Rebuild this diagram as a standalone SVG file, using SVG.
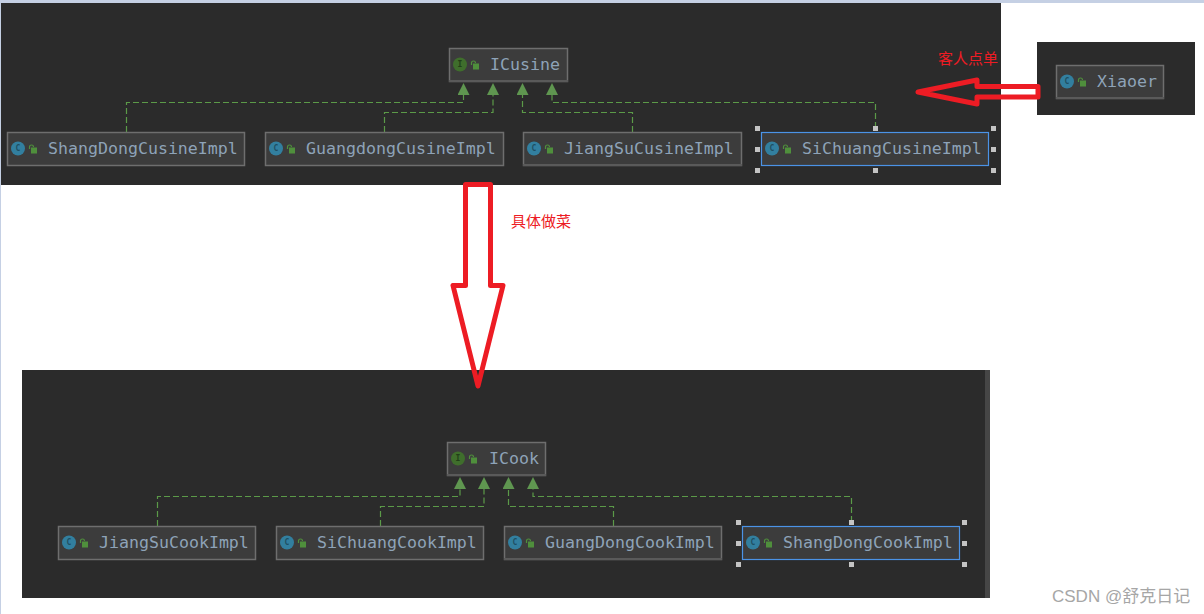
<svg xmlns="http://www.w3.org/2000/svg" xmlns:xlink="http://www.w3.org/1999/xlink" width="1204" height="614" viewBox="0 0 1204 614">
<style>
.panel{fill:#2b2b2b}
.box{fill:#3c3c3c;stroke:#6e6e6e;stroke-width:1.5}
.sel{fill:#3c3c3c;stroke:#4b93e6;stroke-width:1.2}
.foot{fill:#5a5a5a}
.label{font-family:"DejaVu Sans Mono","Liberation Mono",monospace;font-size:16.6px;fill:#8ea3b8}
.iconletter{font-family:"DejaVu Sans Mono",monospace;font-size:8px;font-weight:bold;text-anchor:middle}
.dep{fill:none;stroke:#5b9a48;stroke-width:1.2;stroke-dasharray:6 3;marker-end:url(#tri)}
.handle{fill:#c4c4c4}
.red{fill:none;stroke:#ed1c24;stroke-width:5;stroke-linejoin:round}
.note{font-family:"Liberation Sans","Noto Sans CJK SC",sans-serif;font-size:15px;fill:#ed1c24}
.mark{font-family:"Liberation Sans","Noto Sans CJK SC",sans-serif;font-size:17px;fill:#a6a6a6}
</style>
<defs>
<marker id="tri" markerUnits="userSpaceOnUse" markerWidth="12" markerHeight="12" refX="0" refY="6" orient="auto" viewBox="0 0 12 12"><path d="M0 0L12 6L0 12Z" fill="#5f9650"/></marker>
<g id="lock"><rect x="24" y="15.500" width="6" height="6" fill="#4f8f3c"/><path d="M22.500 17V15a2 2 0 0 1 4 0" fill="none" stroke="#4f8f3c" stroke-width="1.200"/></g>
<g id="cicon"><circle cx="11" cy="16.500" r="7" fill="#327f9f"/><text class="iconletter" x="11" y="19.300" fill="#1f4f63">C</text><use href="#lock" xlink:href="#lock"/></g>
<g id="iicon"><circle cx="11" cy="16.500" r="7" fill="#3f6e2c"/><text class="iconletter" x="11" y="19.300" fill="#223f18">I</text><use href="#lock" xlink:href="#lock"/></g>
</defs>
<rect width="1204" height="614" fill="#fff"/>
<rect width="1204" height="3" fill="#c5d0e4"/>
<rect y="0" width="1" height="614" fill="#c5d0e4"/>
<rect class="panel" x="1" y="3" width="1000" height="182"/>
<rect class="panel" x="1037" y="42" width="158" height="73"/>
<rect class="panel" x="22" y="370" width="968" height="228"/>
<rect x="985" y="370" width="5" height="228" fill="#464646"/>

<g id="connectors">
<path class="dep" d="M126.500 132V102.500H463.500V95"/>
<path class="dep" d="M384.500 132V112.500H493V95"/>
<path class="dep" d="M632.500 132V112.500H522.500V95"/>
<path class="dep" d="M875.500 128V102.500H552V95"/>
<path class="dep" d="M157.500 526V496.500H460V489"/>
<path class="dep" d="M380.500 526V506.500H484V489"/>
<path class="dep" d="M613.500 526V506.500H508.500V489"/>
<path class="dep" d="M851.500 522V496.500H533V489"/>
</g>

<g id="ICusine" transform="translate(449 48)"><rect class="box" x="0.500" y="0.500" width="118" height="33"/><rect class="foot" y="32" width="119" height="2"/><use href="#iicon" xlink:href="#iicon"/><text class="label" x="41" y="22">ICusine</text></g>
<g id="ShangDongCusineImpl" transform="translate(7 132)"><rect class="box" x="0.500" y="0.500" width="237" height="33"/><use href="#cicon" xlink:href="#cicon"/><text class="label" x="41" y="22">ShangDongCusineImpl</text></g>
<g id="GuangdongCusineImpl" transform="translate(265 132)"><rect class="box" x="0.500" y="0.500" width="238" height="33"/><use href="#cicon" xlink:href="#cicon"/><text class="label" x="41" y="22">GuangdongCusineImpl</text></g>
<g id="JiangSuCusineImpl" transform="translate(523 132)"><rect class="box" x="0.500" y="0.500" width="218" height="33"/><rect class="foot" y="32" width="219" height="2"/><use href="#cicon" xlink:href="#cicon"/><text class="label" x="41" y="22">JiangSuCusineImpl</text></g>
<g id="SiChuangCusineImpl" transform="translate(761 132)"><rect class="sel" x="0.500" y="0.500" width="227" height="33"/><use href="#cicon" xlink:href="#cicon"/><text class="label" x="41" y="22">SiChuangCusineImpl</text>
<g class="handle"><rect x="-6" y="-6" width="5" height="5"/><rect x="112" y="-6" width="5" height="5"/><rect x="230" y="-6" width="5" height="5"/><rect x="-6" y="15" width="5" height="5"/><rect x="230" y="15" width="5" height="5"/><rect x="-6" y="36" width="5" height="5"/><rect x="112" y="36" width="5" height="5"/><rect x="230" y="36" width="5" height="5"/></g></g>
<g id="Xiaoer" transform="translate(1056 65)"><rect class="box" x="0.500" y="0.500" width="107" height="33"/><rect class="foot" y="32" width="108" height="2"/><use href="#cicon" xlink:href="#cicon"/><text class="label" x="41" y="22">Xiaoer</text></g>

<g id="ICook" transform="translate(447 442)"><rect class="box" x="0.500" y="0.500" width="98" height="33"/><rect class="foot" y="32" width="99" height="2"/><use href="#iicon" xlink:href="#iicon"/><text class="label" x="42" y="22">ICook</text></g>
<g id="JiangSuCookImpl" transform="translate(58 526)"><rect class="box" x="0.500" y="0.500" width="197" height="33"/><use href="#cicon" xlink:href="#cicon"/><text class="label" x="41" y="22">JiangSuCookImpl</text></g>
<g id="SiChuangCookImpl" transform="translate(276 526)"><rect class="box" x="0.500" y="0.500" width="207" height="33"/><use href="#cicon" xlink:href="#cicon"/><text class="label" x="41" y="22">SiChuangCookImpl</text></g>
<g id="GuangDongCookImpl" transform="translate(504 526)"><rect class="box" x="0.500" y="0.500" width="217" height="33"/><rect class="foot" y="32" width="218" height="2"/><use href="#cicon" xlink:href="#cicon"/><text class="label" x="41" y="22">GuangDongCookImpl</text></g>
<g id="ShangDongCookImpl" transform="translate(742 526)"><rect class="sel" x="0.500" y="0.500" width="217" height="33"/><use href="#cicon" xlink:href="#cicon"/><text class="label" x="41" y="22">ShangDongCookImpl</text>
<g class="handle"><rect x="-6" y="-6" width="5" height="5"/><rect x="107" y="-6" width="5" height="5"/><rect x="220" y="-6" width="5" height="5"/><rect x="-6" y="15" width="5" height="5"/><rect x="220" y="15" width="5" height="5"/><rect x="-6" y="36" width="5" height="5"/><rect x="107" y="36" width="5" height="5"/><rect x="220" y="36" width="5" height="5"/></g></g>

<path class="red" d="M465.500 184.500H490.500V285.500H503L478 386L453 285.500H465.500Z"/>
<path class="red" d="M1038 86.500V97H977V104L918 92L977 80V86.500Z"/>
<text class="note" x="938" y="64">客人点单</text>
<text class="note" x="511" y="227">具体做菜</text>
<text class="mark" x="1052" y="602">CSDN @舒克日记</text>
</svg>
